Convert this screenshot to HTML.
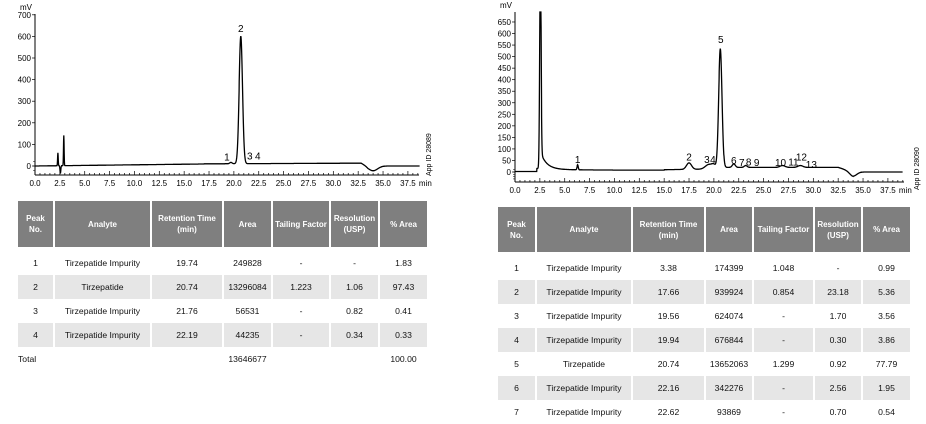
<!DOCTYPE html>
<html><head><meta charset="utf-8"><style>
body{margin:0;width:926px;height:415px;background:#fff;overflow:hidden;font-family:"Liberation Sans",sans-serif;position:relative}
svg{position:absolute;left:0;top:0}
table{position:absolute;border-collapse:separate;border-spacing:2px 0;font-size:8.6px;color:#111}
th{background:#7f7f7f;color:#fff;font-weight:bold;font-size:8px;padding:0;line-height:11px}
td{text-align:center;padding:0;height:24px}
tr.f td{padding-top:4px}
tr.g td{background:#e6e6e6}
</style></head><body>
<svg id="s" width="926" height="415" font-family="Liberation Sans, sans-serif" font-size="8"></svg>

<table style="left:16px;top:201px">
<tr style="height:46px"><th style="width:35px">Peak<br>No.</th><th style="width:95px">Analyte</th><th style="width:70px">Retention Time<br>(min)</th><th style="width:47px">Area</th><th style="width:56px">Tailing Factor</th><th style="width:47px">Resolution<br>(USP)</th><th style="width:47px">% Area</th></tr>
<tr class="f"><td>1</td><td>Tirzepatide Impurity</td><td>19.74</td><td>249828</td><td>-</td><td>-</td><td>1.83</td></tr>
<tr class="g"><td>2</td><td>Tirzepatide</td><td>20.74</td><td>13296084</td><td>1.223</td><td>1.06</td><td>97.43</td></tr>
<tr><td>3</td><td>Tirzepatide Impurity</td><td>21.76</td><td>56531</td><td>-</td><td>0.82</td><td>0.41</td></tr>
<tr class="g"><td>4</td><td>Tirzepatide Impurity</td><td>22.19</td><td>44235</td><td>-</td><td>0.34</td><td>0.33</td></tr>
<tr><td style="text-align:left">Total</td><td></td><td></td><td>13646677</td><td></td><td></td><td>100.00</td></tr>
</table>

<table style="left:496px;top:207px">
<tr style="height:45px"><th style="width:37px">Peak<br>No.</th><th style="width:94px">Analyte</th><th style="width:71px">Retention Time<br>(min)</th><th style="width:46px">Area</th><th style="width:59px">Tailing Factor</th><th style="width:46px">Resolution<br>(USP)</th><th style="width:47px">% Area</th></tr>
<tr class="f"><td>1</td><td>Tirzepatide Impurity</td><td>3.38</td><td>174399</td><td>1.048</td><td>-</td><td>0.99</td></tr>
<tr class="g"><td>2</td><td>Tirzepatide Impurity</td><td>17.66</td><td>939924</td><td>0.854</td><td>23.18</td><td>5.36</td></tr>
<tr><td>3</td><td>Tirzepatide Impurity</td><td>19.56</td><td>624074</td><td>-</td><td>1.70</td><td>3.56</td></tr>
<tr class="g"><td>4</td><td>Tirzepatide Impurity</td><td>19.94</td><td>676844</td><td>-</td><td>0.30</td><td>3.86</td></tr>
<tr><td>5</td><td>Tirzepatide</td><td>20.74</td><td>13652063</td><td>1.299</td><td>0.92</td><td>77.79</td></tr>
<tr class="g"><td>6</td><td>Tirzepatide Impurity</td><td>22.16</td><td>342276</td><td>-</td><td>2.56</td><td>1.95</td></tr>
<tr><td>7</td><td>Tirzepatide Impurity</td><td>22.62</td><td>93869</td><td>-</td><td>0.70</td><td>0.54</td></tr>
</table>

<script>
var s=document.getElementById('s'),h='';
function g(x,c,w,a){return a*Math.exp(-Math.pow((x-c)/w,2)/2);}
function chart(o){
 var X=function(t){return o.x0+t*o.kx},Y=function(v){return o.y0-v*o.ky};
 h+='<line x1="'+o.x0+'" y1="'+o.yt+'" x2="'+o.x0+'" y2="'+o.yb+'" stroke="#000"/>';
 h+='<line x1="'+o.x0+'" y1="'+o.yb+'" x2="'+o.xe+'" y2="'+o.yb+'" stroke="#000"/>';
 for(var t=0;t<=o.tmax;t+=0.5){var L=(Math.abs(t/2.5-Math.round(t/2.5))<1e-6)?4:2;h+='<line x1="'+X(t)+'" y1="'+o.yb+'" x2="'+X(t)+'" y2="'+(o.yb-L)+'" stroke="#000" stroke-width="0.7"/>';}
 for(var t=0;t<=37.5;t+=2.5){h+='<text x="'+X(t)+'" y="'+(o.yb+11)+'" text-anchor="middle">'+t.toFixed(1)+'</text>';}
 h+='<text x="'+(X(37.5)+11)+'" y="'+(o.yb+11)+'">min</text>';
 for(var v=0;v<=o.vmax;v+=o.vs){h+='<line x1="'+(o.x0-3)+'" y1="'+Y(v)+'" x2="'+o.x0+'" y2="'+Y(v)+'" stroke="#000" stroke-width="0.7"/><text x="'+(o.x0-4)+'" y="'+(Y(v)+3)+'" text-anchor="end">'+v+'</text>';}
 for(var v=o.vs/5;v>-40;v-=o.vs/5){if(Y(v)<o.yb)h+='<line x1="'+(o.x0-2)+'" y1="'+Y(v)+'" x2="'+o.x0+'" y2="'+Y(v)+'" stroke="#000" stroke-width="0.5"/>';}
 h+='<text x="'+(o.x0-15)+'" y="'+(o.yt-4)+'">mV</text>';
 var d='';for(var t=0;t<=o.tmax;t+=0.02){var y=Math.max(Y(o.f(t)),o.yt);y=Math.min(y,o.yb+4);d+=(d?'L':'M')+X(t).toFixed(1)+' '+y.toFixed(1);}
 h+='<path d="'+d+'" fill="none" stroke="#000" stroke-width="1.3"/>';
 o.lab.forEach(function(l){h+='<text x="'+X(l[0])+'" y="'+Y(l[1])+'" text-anchor="middle" font-size="10">'+l[2]+'</text>';});
 h+='<text transform="translate('+o.idx+','+o.idy+') rotate(-90)" font-size="7">'+o.id+'</text>';
}
chart({x0:35,y0:166,kx:9.944,ky:0.216,yt:14,yb:175,xe:419,tmax:38.7,vmax:700,vs:100,
 f:function(t){var b=t<17?t*0.55:(t<32.8?10+ (t-17)*0.2:0);if(t>32.8)b=g(t,34,0.45,-22)+(t<33.5?13*(33.5-t)/0.7:0);
  return b+g(t,2.3,0.03,60)+g(t,2.55,0.04,-35)+g(t,2.9,0.03,140)+g(t,19.7,0.12,6)+g(t,20.7,0.17,590);},
 lab:[[19.3,25,'1'],[20.7,620,'2'],[21.6,30,'3'],[22.4,30,'4']],id:'App ID 28089',idx:431,idy:176});
chart({x0:515,y0:172,kx:9.944,ky:0.2308,yt:12,yb:182,xe:904,tmax:39,vmax:650,vs:50,
 f:function(t){var b=t<2.2?2:(t<2.5?15:8+70*Math.exp(-(t-2.6)/0.6)+5*Math.exp(-(t-2.6)/3));if(t>15)b=10+(t-15)*0.6;if(t>21)b=20;if(t>32.5)b=20-(t-32.5)*14;if(t>34)b=0;
  return b+g(t,2.55,0.07,900)+g(t,6.3,0.06,22)+g(t,17.5,0.25,28)+g(t,19.5,0.35,20)+g(t,20,0.2,15)+g(t,20.65,0.17,520)+g(t,22,0.15,15)+g(t,23.2,0.15,8)+g(t,26.9,0.25,8)+g(t,28.7,0.25,8)+g(t,34,0.35,-18);},
 lab:[[6.3,38,'1'],[17.5,50,'2'],[19.3,38,'3'],[19.9,38,'4'],[20.7,560,'5'],[22,35,'6'],[22.8,25,'7'],[23.5,28,'8'],[24.3,25,'9'],[26.7,25,'10'],[28,28,'11'],[28.8,50,'12'],[29.8,18,'13']],id:'App ID 28090',idx:919,idy:190});
s.innerHTML=h;
</script>
</body></html>
